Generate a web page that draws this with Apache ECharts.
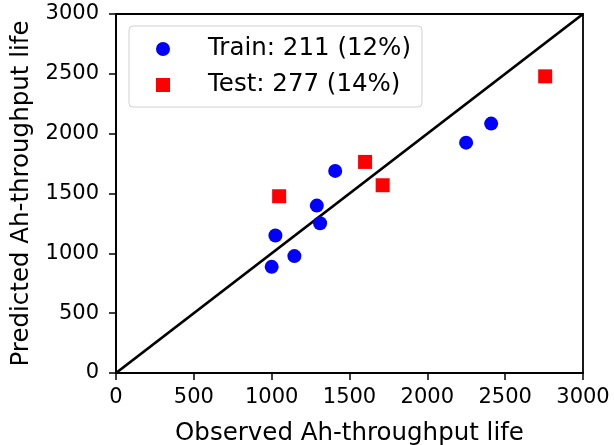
<!DOCTYPE html>
<html>
<head>
<meta charset="utf-8">
<script src="https://cdn.jsdelivr.net/npm/echarts@6/dist/echarts.min.js"></script>
<style>
  html, body { margin: 0; padding: 0; background: #fff; }
  #vis { width: 614px; height: 445px; }
</style>
</head>
<body>
<div id="vis"></div>
<script>
// observed vs predicted Ah-throughput life
const trainObserved = [1000, 1024, 1146, 1290, 1311, 1408, 2249, 2410];
const trainPredicted = [887, 1149, 977, 1399, 1252, 1689, 1925, 2084];
const testObserved = [1048, 1600, 1713, 2757];
const testPredicted = [1477, 1764, 1569, 2479];
const axisTicks = [0, 500, 1000, 1500, 2000, 2500, 3000];
const labels = ["Train: 211 (12%)", "Test: 277 (14%)"];

const vis = document.getElementById("vis");
const chart = echarts.init(vis);
const font = "DejaVu Sans";

function pairs(xs, ys) {
  return xs.map((x, i) => [x, ys[i]]);
}

const axisCommon = {
  type: "value",
  min: axisTicks[0],
  max: axisTicks[axisTicks.length - 1],
  interval: axisTicks[1] - axisTicks[0],
  nameLocation: "middle",
  nameTextStyle: { fontFamily: font, fontSize: 24.5, color: "#000" },
  axisLine: { show: true, lineStyle: { color: "#000", width: 1.8 } },
  axisTick: { show: true, inside: false, length: 7, lineStyle: { color: "#000", width: 1.5 } },
  axisLabel: { fontFamily: font, fontSize: 21, color: "#000", formatter: v => String(v) },
  splitLine: { show: false }
};

const options = {
  animation: false,
  grid: {
    left: 116, right: 31, top: 14, bottom: 72,
    containLabel: false,
    outerBoundsMode: "none",
    show: true, borderColor: "#000", borderWidth: 1.8
  },
  legend: {
    orient: "vertical",
    left: 129, top: 26,
    padding: [9, 11, 8, 27],
    itemGap: 8,
    itemWidth: 14, itemHeight: 14,
    borderColor: "#d0d0d0", borderWidth: 1, borderRadius: 4,
    backgroundColor: "rgba(255,255,255,0.8)",
    textStyle: { fontFamily: font, fontSize: 24.5, color: "#000", lineHeight: 28, padding: [0, 0, 0, 33] },
    data: [{ name: labels[0], icon: "circle" }, { name: labels[1], icon: "rect" }]
  },
  xAxis: Object.assign({}, axisCommon, {
    name: "Observed Ah-throughput life",
    nameGap: 48,
    axisLabel: Object.assign({}, axisCommon.axisLabel, { margin: 14 })
  }),
  yAxis: Object.assign({}, axisCommon, {
    name: "Predicted Ah-throughput life",
    nameGap: 82,
    axisLabel: Object.assign({}, axisCommon.axisLabel, { margin: 17 })
  }),
  series: [
    {
      type: "line",
      data: [[0, 0], [3000, 3000]],
      showSymbol: false,
      symbol: "none",
      lineStyle: { color: "#000", width: 2.8 },
      silent: true,
      z: 1
    },
    {
      name: labels[0],
      type: "scatter",
      data: pairs(trainObserved, trainPredicted),
      symbol: "circle",
      symbolSize: 14,
      itemStyle: { color: "#0000ff", opacity: 1 },
      z: 3
    },
    {
      name: labels[1],
      type: "scatter",
      data: pairs(testObserved, testPredicted),
      symbol: "rect",
      symbolSize: 14,
      itemStyle: { color: "#ff0000", opacity: 1 },
      z: 3
    }
  ]
};

chart.setOption(options);
</script>
</body>
</html>
